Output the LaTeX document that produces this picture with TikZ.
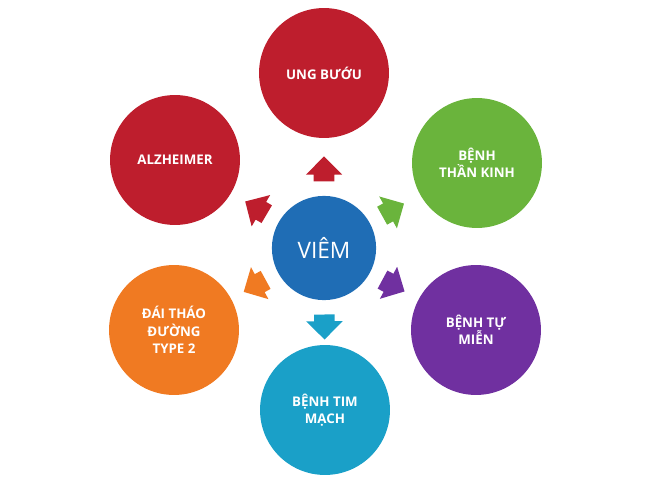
\documentclass[tikz,border=0pt]{standalone}
\usepackage{fontspec}
\setmainfont{Open Sans}
\usetikzlibrary{shapes.arrows,calc}
\definecolor{cblue}{HTML}{1F6DB5}
\definecolor{cred}{HTML}{BE1E2D}
\definecolor{cgreen}{HTML}{6AB43C}
\definecolor{cpurple}{HTML}{7030A0}
\definecolor{ccyan}{HTML}{1AA0C8}
\definecolor{corange}{HTML}{F07A22}
\begin{document}
\begin{tikzpicture}
[x=0.0264cm,y=-0.0264cm,
disk/.style={circle,draw=none,minimum size=3.43cm,text=white,align=center,font=\bfseries\fontsize{10}{13}\selectfont},
hub/.style={circle,fill=cblue,minimum size=2.75cm,text=white,font=\fontsize{17}{20}\selectfont},
pointer/.style={single arrow,draw=none,inner xsep=0pt,inner ysep=0.264cm,minimum height=0.66cm,single arrow head extend=0.21cm}]
\useasboundingbox (0,0) rectangle (650,487);
%%
\node[hub] (viem) at (324,248) {VIÊM};
%%
\node[disk,fill=cred] (ungbuou) at (324,73) {UNG BƯỚU};
\node[disk,fill=cgreen] (thankinh) at (477,163) {BỆNH\\THẦN KINH};
\node[disk,fill=cpurple] (tumien) at (476,330) {BỆNH TỰ\\MIỄN};
\node[disk,fill=ccyan] (timmach) at (325,410) {BỆNH TIM\\MẠCH};
\node[disk,fill=corange] (daithaoduong) at (174,330) {ĐÁI THÁO\\ĐƯỜNG\\TYPE 2};
\node[disk,fill=cred] (alzheimer) at (175,160) {ALZHEIMER};
%%
\foreach \target/\col in {ungbuou/cred,thankinh/cgreen,tumien/cpurple,timmach/ccyan,daithaoduong/corange,alzheimer/cred}{
\path let \p1=($(\target)-(viem)$), \n1={atan2(\y1,\x1)} in
node[pointer,fill=\col,rotate=\n1] (arr-\target) at ($(viem)!1.95cm!(\target)$) {};
}
\end{tikzpicture}
\end{document}
